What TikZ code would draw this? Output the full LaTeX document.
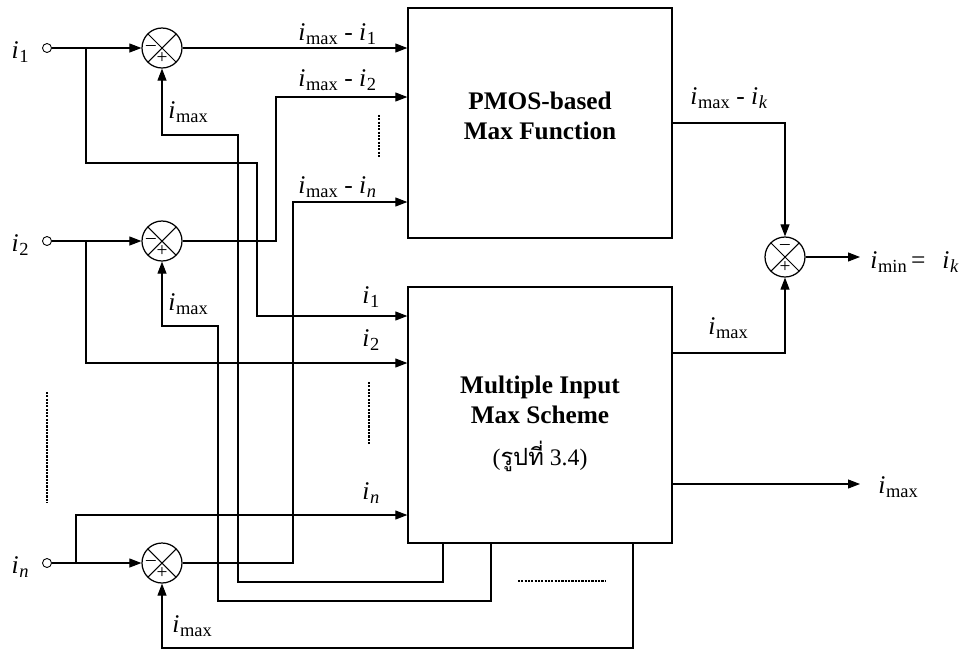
\documentclass[tikz,border=0pt]{standalone}
\usepackage{fontspec}
\setmainfont{Liberation Serif}
\newfontfamily\thaifont[Script=Thai]{Loma}
\usepackage{tikz}
\usetikzlibrary{positioning, arrows.meta, calc}

\newcommand{\cur}[1]{\textit{i}\kern0.4pt\raisebox{-0.4ex}{\fontsize{10.5}{12}\selectfont #1}}

\tikzset{
  wire/.style={line width=0.6pt},
  arr/.style={wire, -{Triangle[length=2.4mm,width=1.8mm]}},
  blk/.style={draw, line width=0.8pt, minimum width=5.28cm, inner sep=0pt},
  summer/.style={draw, circle, line width=0.7pt, minimum size=0.8cm, inner sep=0pt,
    path picture={\draw[line width=0.6pt]
      (path picture bounding box.north west) -- (path picture bounding box.south east)
      (path picture bounding box.south west) -- (path picture bounding box.north east);}},
  port/.style={draw, circle, line width=0.5pt, minimum size=0.18cm, inner sep=0pt, fill=white},
  lbl/.style={inner sep=0pt, anchor=base west, font=\fontsize{14.5}{16}\selectfont},
  sgn/.style={inner sep=0pt, font=\fontsize{11}{12}\selectfont},
  dots/.style={line width=0.6pt, dash pattern=on 1.2pt off 0.7pt},
  title/.style={font=\fontsize{14.4}{17}\selectfont\bfseries, align=center}
}

\begin{document}
\begin{tikzpicture}[x=0.02cm, y=-0.02cm]
  \useasboundingbox (0,0) rectangle (973,650);

  \node[blk, minimum height=4.6cm] (pmos) at (540,123) {};
  \node[blk, minimum height=5.12cm] (mims) at (540,415) {};
  \node[title] (pmostxt) at (540,116) {PMOS-based\\Max Function};
  \node[title] (mimstxt) at (540,424) {Multiple Input\\Max Scheme\\[7pt]
    {\mdseries\fontsize{13.5}{16}\selectfont ({\thaifont รูปที่} 3.4)}};

  \foreach \n/\y/\s in {1/48/1, 2/241/2, n/563/\textit{n}} {
    \node[port] (in\n) at (47,\y) {};
    \node[summer] (s\n) at (162,\y) {};
    \node[sgn] (p\n) at ([yshift=-0.21cm]s\n.center) {+};
    \node[sgn] (m\n) at ([xshift=-0.22cm]s\n.center) {--};
    \node[lbl, anchor=base east] (li\n) at (29,\y+10) {\cur{\s}};
    \draw[arr] (in\n) -- (s\n);
  }

  \coordinate (b1) at (86,48);
  \coordinate (b2) at (86,241);
  \coordinate (bn) at (76,563);
  \coordinate (k1) at (257,163);
  \coordinate (q2) at (276,97);
  \coordinate (qn) at (293,202);

  \draw[arr] (s1) -- (s1 -| pmos.west);
  \draw[arr] (s2) -| (q2) -- (q2 -| pmos.west);
  \draw[arr] (sn) -| (qn) -- (qn -| pmos.west);

  \draw[arr] (b1) |- (k1) |- (mims.west |- 0,316);
  \draw[arr] (b2) |- (mims.west |- 0,363);
  \draw[arr] (bn) |- (mims.west |- 0,515);

  \coordinate (f1) at (mims.south -| 443,0);
  \coordinate (f2) at (mims.south -| 491,0);
  \coordinate (fn) at (mims.south -| 633,0);
  \coordinate (g1) at (238,582);
  \coordinate (h1) at (162,135);
  \coordinate (g2) at (218,601);
  \coordinate (h2) at (162,326);
  \coordinate (gn) at (162,648);
  \draw[arr] (f1) |- (g1) |- (h1) -- (s1);
  \draw[arr] (f2) |- (g2) |- (h2) -- (s2);
  \draw[arr] (fn) |- (gn) -- (sn);

  \node[summer] (sk) at (785,257) {};
  \node[sgn] (pk) at ([yshift=-0.21cm]sk.center) {+};
  \node[sgn] (mk) at ([yshift=0.21cm]sk.center) {--};
  \coordinate (ok) at (860,257);
  \coordinate (o3) at (860,484);
  \draw[arr] (pmos.east) -| (sk);
  \draw[arr] (mims.east |- 0,353) -| (sk);
  \draw[arr] (sk) -- (ok);
  \draw[arr] (mims.east |- o3) -- (o3);

  \node[lbl] (l1) at (298,40) {\cur{max} - \cur{1}};
  \node[lbl] (l2) at (298,86) {\cur{max} - \cur{2}};
  \node[lbl] (ln) at (298,193) {\cur{max} - \cur{\textit{n}}};
  \node[lbl] (lf1) at (168,118) {\cur{max}};
  \node[lbl] (lf2) at (168,310) {\cur{max}};
  \node[lbl] (lfn) at (172,632) {\cur{max}};
  \node[lbl] (la1) at (362,303) {\cur{1}};
  \node[lbl] (la2) at (362,346) {\cur{2}};
  \node[lbl] (lan) at (362,499) {\cur{\textit{n}}};
  \node[lbl] (lk) at (690,104) {\cur{max} - \cur{\textit{k}}};
  \node[lbl] (lm) at (708,334) {\cur{max}};
  \node[lbl] (lmin) at (870,268) {\cur{min}\,=\enspace\,\cur{\textit{k}}};
  \node[lbl] (lmax3) at (878,493) {\cur{max}};

  \draw[dots] (47,392) -- (47,503);
  \draw[dots] (369,382) -- (369,445);
  \draw[dots] (379,115) -- (379,158);
  \draw[dots] (518,581) -- (606,581);
\end{tikzpicture}
\end{document}
